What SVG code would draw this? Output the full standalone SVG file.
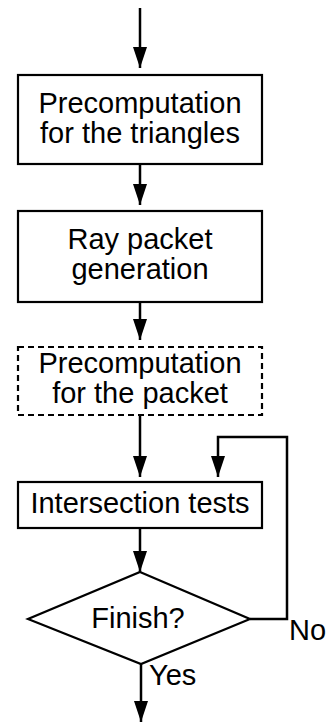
<svg xmlns="http://www.w3.org/2000/svg" width="326" height="725" viewBox="0 0 326 725">
<style>
.box{fill:#fff;stroke:#000;stroke-width:2.2}
.dash{stroke-dasharray:6 4}
.t{font-family:"Liberation Sans",Arial,sans-serif;font-size:29px;fill:#000;text-anchor:middle}
.l{font-family:"Liberation Sans",Arial,sans-serif;font-size:29px;fill:#000}
.c{fill:none;stroke:#000;stroke-width:2.5}
</style>
<defs>
<marker id="ah" markerUnits="userSpaceOnUse" markerWidth="21" markerHeight="14" refX="21" refY="7" orient="auto">
<path d="M0,0 L21,7 L0,14 z" fill="#000"/>
</marker>
</defs>
<g id="connectors">
<line class="c" x1="140" y1="8" x2="140" y2="68" marker-end="url(#ah)"/>
<line class="c" x1="140" y1="164" x2="140" y2="205" marker-end="url(#ah)"/>
<line class="c" x1="140" y1="302" x2="140" y2="340" marker-end="url(#ah)"/>
<line class="c" x1="140" y1="415" x2="140" y2="477" marker-end="url(#ah)"/>
<line class="c" x1="140" y1="528" x2="140" y2="572" marker-end="url(#ah)"/>
<polyline class="c" points="250,619 287,619 287,437 218,437 218,477" marker-end="url(#ah)"/>
<line class="c" x1="141" y1="664" x2="141" y2="722" marker-end="url(#ah)"/>
<text class="l" x="289" y="640">No</text>
<text class="l" x="149" y="685">Yes</text>
</g>
<g id="n1">
<rect class="box" x="18" y="75" width="244" height="89"/>
<text class="t" x="140" y="113">Precomputation</text>
<text class="t" x="140" y="143">for the triangles</text>
</g>
<g id="n2">
<rect class="box" x="18" y="211" width="244" height="91"/>
<text class="t" x="140" y="249">Ray packet</text>
<text class="t" x="140" y="279">generation</text>
</g>
<g id="n3">
<rect class="box dash" x="18" y="347" width="244" height="68"/>
<text class="t" x="140" y="373">Precomputation</text>
<text class="t" x="140" y="403">for the packet</text>
</g>
<g id="n4">
<rect class="box" x="18" y="482" width="244" height="46"/>
<text class="t" x="140" y="513">Intersection tests</text>
</g>
<g id="n5">
<polygon class="box" points="140,572 250,619 141,664 28,619"/>
<text class="t" x="138" y="628">Finish?</text>
</g>
</svg>
